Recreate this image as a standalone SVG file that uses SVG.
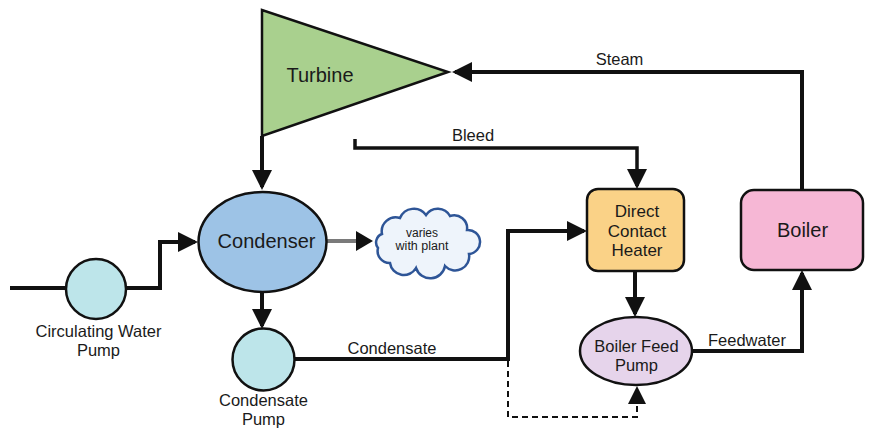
<svg xmlns="http://www.w3.org/2000/svg" width="869" height="431" viewBox="0 0 869 431">
<defs>
<marker id="ah" viewBox="0 0 20 20" refX="17" refY="10" markerWidth="20" markerHeight="20" orient="auto" markerUnits="userSpaceOnUse"><path d="M0,0 L20,10 L0,20 Z" fill="#111"/></marker>
<marker id="ahs" viewBox="0 0 18 18" refX="15" refY="9" markerWidth="18" markerHeight="18" orient="auto" markerUnits="userSpaceOnUse"><path d="M0,0 L18,9 L0,18 Z" fill="#111"/></marker>
</defs>
<style>
text{font-family:"Liberation Sans",Arial,sans-serif;fill:#1a1a1a;text-anchor:middle}
.ln{fill:none;stroke:#111;stroke-width:4;stroke-linejoin:miter}
.node{stroke:#111;stroke-width:2.5}
.lbl{font-size:16.5px}
</style>
<rect width="869" height="431" fill="#fff"/>
<g id="connectors">
<path class="ln" d="M802,190 V72 H455" marker-end="url(#ah)"/>
<path class="ln" d="M262,136 V187" marker-end="url(#ah)"/>
<path class="ln" d="M10,288 H66"/>
<path class="ln" d="M126,288 H160 V242 H195" marker-end="url(#ah)"/>
<path class="ln" d="M262,292 V326" marker-end="url(#ah)"/>
<path class="ln" d="M295,359 H508 V231 H584" marker-end="url(#ah)"/>
<path fill="none" stroke="#111" stroke-width="2" stroke-dasharray="6,4" d="M508,361 V417 H637 V392"/>
<path d="M628,404 L637,386 L646,404 Z" fill="#111"/>
<path class="ln" style="stroke-width:3.5" d="M355,139 V148 H637 V186" marker-end="url(#ah)"/>
<path class="ln" d="M635,271 V314" marker-end="url(#ah)"/>
<path class="ln" d="M692,351 H802 V273" marker-end="url(#ah)"/>
<path fill="none" stroke="#7a7a7a" stroke-width="4" d="M327,241 H360"/>
<path d="M356,231 L373,241 L356,251 Z" fill="#111"/>
<text class="lbl" x="619.5" y="65">Steam</text>
<text class="lbl" x="473" y="141">Bleed</text>
<text class="lbl" x="392" y="354">Condensate</text>
<text class="lbl" x="747" y="346">Feedwater</text>
</g>
<g id="turbine">
<polygon class="node" points="262,10 262,136 448,72" fill="#A9D08E"/>
<text x="320" y="82" font-size="20">Turbine</text>
</g>
<g id="condenser">
<ellipse class="node" cx="262.5" cy="242" rx="64" ry="50" fill="#9DC3E6"/>
<text x="266.5" y="248" font-size="20">Condenser</text>
</g>
<g id="cw-pump">
<circle class="node" cx="96" cy="289" r="30" fill="#BDE5EA"/>
<text class="lbl" x="98.5" y="337">Circulating Water</text>
<text class="lbl" x="98.5" y="356">Pump</text>
</g>
<g id="condensate-pump">
<circle class="node" cx="263.5" cy="359.5" r="31" fill="#BDE5EA"/>
<text class="lbl" x="263.5" y="406">Condensate</text>
<text class="lbl" x="263.5" y="425">Pump</text>
</g>
<g id="cloud">
<path d="M382,234 A14,14 0 0 1 400,218 A15,15 0 0 1 426,215 A14,14 0 0 1 450,216 A13,13 0 0 1 467,230 A12,12 0 0 1 469,254 A14,14 0 0 1 445,266 A15,15 0 0 1 416,268 A14,14 0 0 1 390,263 A12,12 0 0 1 378,248 A9,9 0 0 1 382,234 Z" fill="#EEF4FB" stroke="#2E5597" stroke-width="2.5"/>
<text x="422" y="237" font-size="12">varies</text>
<text x="422" y="250" font-size="12.5">with plant</text>
</g>
<g id="heater">
<rect class="node" x="587" y="189" width="97" height="82" rx="11" fill="#FAD287"/>
<text x="637" y="217" font-size="17">Direct</text>
<text x="637" y="237" font-size="17">Contact</text>
<text x="637" y="256" font-size="17">Heater</text>
</g>
<g id="bfp">
<ellipse class="node" cx="636" cy="351" rx="56" ry="34" fill="#E6D4EB"/>
<text x="636.5" y="352" font-size="16.5">Boiler Feed</text>
<text x="636.5" y="371" font-size="16.5">Pump</text>
</g>
<g id="boiler">
<rect class="node" x="741" y="190" width="122" height="80" rx="13" fill="#F6B7D5"/>
<text x="802.5" y="237" font-size="20">Boiler</text>
</g>
</svg>
